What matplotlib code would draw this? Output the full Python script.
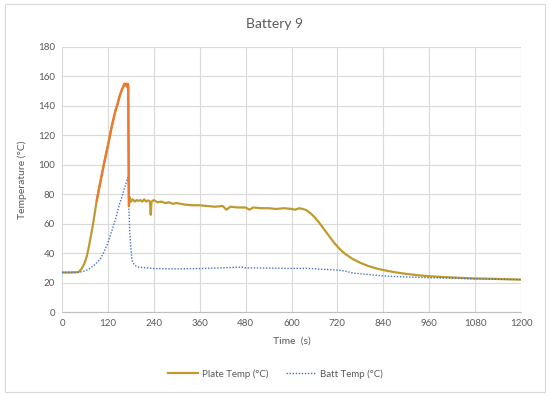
import matplotlib
matplotlib.use("Agg")
import matplotlib.pyplot as plt
from matplotlib.patches import Rectangle

plt.rcParams['font.family'] = ['Lato', 'DejaVu Sans']

# Plate temperature (s, °C)
plate_t = [0, 20, 40, 45, 50, 55, 60, 65, 70, 75, 80, 85, 91, 100, 110, 120, 130, 140, 145, 150,
           155, 160, 163, 165, 168, 170, 172, 173, 175, 177, 180, 185, 190, 195, 200, 205, 210,
           215, 220, 225, 230, 232, 234, 240, 250, 260, 270, 280, 290, 300, 320, 340, 360, 380,
           400, 420, 430, 440, 460, 480, 490, 500, 520, 540, 560, 580, 600, 610, 620, 630, 640,
           650, 660, 670, 680, 690, 700, 710, 720, 730, 740, 760, 780, 800, 820, 840, 870, 900,
           930, 960, 1000, 1040, 1080, 1120, 1160, 1200]
plate_v = [26.8, 26.8, 27.0, 27.5, 29, 31, 34, 38, 44, 51, 58, 66, 76, 88, 101, 113, 126, 137, 141, 146,
           150, 153, 155, 154, 155, 153, 155, 154, 72, 78, 75, 76.5, 75, 76, 75.5, 76, 75,
           76.5, 75, 75.8, 75, 66, 75, 76, 74.5, 75, 74, 74.5, 73.5, 74, 73, 72.5, 72.5, 72,
           71.5, 72, 69.5, 71.5, 71, 71, 69.5, 71, 70.5, 70.5, 70, 70.5, 70, 69.5, 70.5, 70, 69,
           67, 64.5, 61.5, 58, 54.5, 51, 47.5, 44.5, 41.8, 39.5, 36, 33.4, 31.3, 29.7, 28.5, 27,
           25.9, 25, 24.3, 23.7, 23.2, 22.8, 22.6, 22.3, 22]

# Battery temperature (s, °C)
batt_t = [0, 45, 55, 70, 85, 100, 110, 120, 130, 140, 150, 160, 168, 173, 175, 177, 180, 183,
          189, 195, 200, 220, 240, 300, 360, 420, 470, 480, 540, 600, 640, 680, 720, 740, 760,
          800, 840, 900, 960, 1020, 1080, 1140, 1200]
batt_v = [27, 27, 27.5, 29, 32, 36, 41, 47, 55, 63, 73, 81, 88, 92, 70, 55, 44, 35,
          32, 31, 30.5, 30, 29.5, 29.3, 29.5, 30, 30.5, 30, 29.8, 29.6, 29.7, 29, 28.5, 27.8, 26.5,
          25.5, 24.5, 23.8, 23.3, 23, 22.5, 22.2, 22]

# orange-highlighted stretch of the plate curve (s)
orange_from, orange_to = 91, 175

x_ticks = list(range(0, 1201, 120))
y_ticks = list(range(0, 181, 20))

fig = plt.figure(figsize=(5.5, 3.96), dpi=100)
fig.patch.set_facecolor('white')
fig.add_artist(Rectangle((5/550, 4/396), 540/550, 388/396, transform=fig.transFigure,
                         fill=False, edgecolor='#d9d9d9', linewidth=0.8))

ax = fig.add_axes([62/550, 84/396, 459/550, 265/396])

gold = '#bf9b2f'
orange = '#f0772e'
blue = '#4472c4'

ax.plot(plate_t, plate_v, color=gold, linewidth=1.6, label='Plate Temp (°C)', zorder=3)
seg_t = [t for t in plate_t if orange_from <= t <= orange_to]
seg_v = [v for t, v in zip(plate_t, plate_v) if orange_from <= t <= orange_to]
ax.plot(seg_t, seg_v, color=orange, linewidth=1.6, zorder=4)
ax.plot(batt_t, batt_v, color=blue, linewidth=1.0, linestyle=(0, (1, 1.2)),
        label='Batt Temp (°C)', zorder=3)

ax.set_xlim(0, 1200)
ax.set_ylim(0, 180)
ax.set_xticks(x_ticks)
ax.set_yticks(y_ticks)
ax.grid(True, color='#d9d9d9', linewidth=0.8)
ax.set_axisbelow(True)
for s in ['top', 'right', 'left']:
    ax.spines[s].set_visible(False)
ax.spines['bottom'].set_color('#bfbfbf')
ax.tick_params(length=0, labelsize=7, colors='#595959', pad=5)

ax.set_xlabel('Time  (s)', fontsize=7.5, color='#595959', labelpad=6)
ax.set_ylabel('Temperature (°C)', fontsize=7.5, color='#595959', labelpad=8)
fig.text(0.5, 1 - 23.5/396, 'Battery 9', fontsize=10, color='#595959', ha='center', va='center')

leg = fig.legend(loc='center', bbox_to_anchor=(0.5, 22/396), ncol=2, frameon=False,
                 fontsize=7, handlelength=3.1, handletextpad=0.4, columnspacing=1.8)
for t in leg.get_texts():
    t.set_color('#595959')

fig.savefig('out.png', dpi=100)
